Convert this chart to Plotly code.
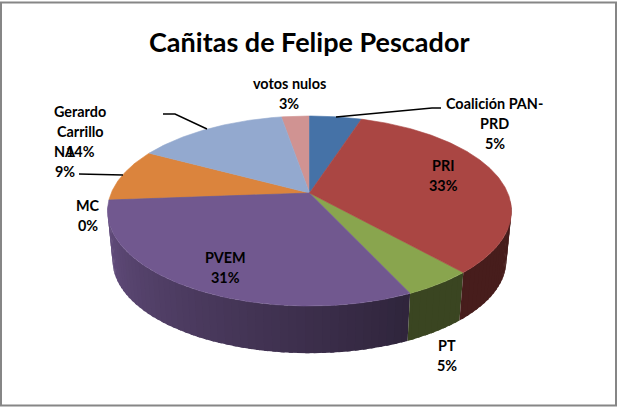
import math
import plotly.graph_objects as go

categories = ["Coalición PAN-PRD", "PRI", "PT", "PVEM", "MC", "NA", "Gerardo Carrillo", "votos nulos"]
values = [5.0, 33.4, 4.7, 30.7, 0.05, 9.0, 14.45, 2.7]
top_colors = ["#4572A7", "#AA4643", "#89A54E", "#71588F", "#4198AF", "#DB843D", "#93A9CF", "#D09392"]
title_text = "Cañitas de Felipe Pescador"

# label line breaks, as wrapped in the chart
label_lines = {
    "Coalición PAN-PRD": ["Coalición PAN-", "PRD"],
    "Gerardo Carrillo": ["Gerardo", "Carrillo"],
}
label_places = {
    "Coalición PAN-PRD": (494.5, 103),
    "PRI": (443, 165),
    "PT": (447, 345),
    "PVEM": (225, 257),
    "MC": (88, 205),
    "NA": (65, 151),
    "Gerardo Carrillo": (80, 111),
    "votos nulos": (289, 83),
}
leaders = [
    [(336, 117), (432, 108), (441, 108)],
    [(207, 129), (175, 114), (163, 114)],
    [(123, 175), (79, 174)],
]

# projection of the tilted disc
CX, CY = 309.5, 193.0
RX, RY, K = 198.3, 91.6, 0.1895
DEPTH, BOTTOM_SCALE = 50.0, 0.975
WALL_FROM, WALL_TO = 95.0, 262.0


def project(deg, scale=1.0, dy=0.0):
    t = math.radians(deg)
    X, Y = math.sin(t), math.cos(t)
    w = 1 + K * Y
    return CX + scale * RX * X / w, CY + dy - scale * RY * Y / w


def shade(hex_color, f):
    r, g, b = (int(hex_color[i:i + 2], 16) for i in (1, 3, 5))
    return f"rgb({round(r * f)},{round(g * f)},{round(b * f)})"


def side_factor(deg):
    if deg < 155:
        return 0.42
    return min(0.9, 0.42 + (deg - 155) / 107 * 0.48)


edges = [0.0]
for v in values:
    edges.append(edges[-1] + v / sum(values) * 360)

fig = go.Figure()


def add_poly(pts, color, stroke=0.6):
    fig.add_trace(go.Scatter(
        x=[p[0] for p in pts], y=[p[1] for p in pts], mode="lines", fill="toself",
        fillcolor=color, line=dict(color=color, width=stroke), hoverinfo="skip", showlegend=False))


slices = list(zip(top_colors, edges[:-1], edges[1:]))

# side wall, front part only; drawn from the left round to the right,
# each strip reaching over the seam of the one before it
for color, a0, a1 in reversed(slices):
    start = max(a0, WALL_FROM)
    b = min(a1, WALL_TO)
    while b > start:
        a = max(b - 2.0, start)
        reach = min(b + 1.0, min(a1, WALL_TO))
        quad = [project(a), project(reach), project(reach, BOTTOM_SCALE, DEPTH), project(a, BOTTOM_SCALE, DEPTH)]
        add_poly(quad + quad[:1], shade(color, side_factor((a + b) / 2)), 0)
        b = a

# top face, thinnest slices first so a sliver stays under its neighbours
for color, a0, a1 in sorted(slices, key=lambda s: s[2] - s[1]):
    n = max(2, int((a1 - a0) * 2))
    arc = [project(a0 + (a1 - a0) * i / n) for i in range(n + 1)]
    add_poly([(CX, CY)] + arc + [(CX, CY)], color)

for pts in leaders:
    fig.add_trace(go.Scatter(x=[p[0] for p in pts], y=[p[1] for p in pts], mode="lines",
                             line=dict(color="#000000", width=1.4), hoverinfo="skip", showlegend=False))

FONT = "Lato, Carlito, Calibri, sans-serif"
annotations = []
LINE_H = 20
for cat, v in zip(categories, values):
    lines = label_lines.get(cat, [cat]) + [f"{round(v)}%"]
    x, y = label_places[cat]
    for i, txt in enumerate(lines):
        annotations.append(dict(x=x, y=y + i * LINE_H, text=f"<b>{txt}</b>", showarrow=False,
                                xref="x", yref="y", xanchor="center", yanchor="middle",
                                font=dict(family=FONT, size=14.4, color="#000000")))
annotations.append(dict(x=309, y=41, text=f"<b>{title_text}</b>", showarrow=False, xref="x", yref="y",
                        xanchor="center", yanchor="middle",
                        font=dict(family=FONT, size=27, color="#000000")))

fig.update_layout(
    width=617, height=407, margin=dict(l=0, r=0, t=0, b=0),
    paper_bgcolor="#FFFFFF", plot_bgcolor="#FFFFFF", showlegend=False,
    xaxis=dict(range=[0, 617], visible=False, fixedrange=True),
    yaxis=dict(range=[407, 0], visible=False, fixedrange=True),
    annotations=annotations,
    shapes=[dict(type="rect", xref="x", yref="y", x0=1, y0=2.5, x1=616, y1=405.5,
                 line=dict(color="#868686", width=2), layer="above")],
)
fig.write_html("out.html", config={"displayModeBar": False},
               post_script="document.body.style.margin='0';document.body.style.overflow='hidden';")
